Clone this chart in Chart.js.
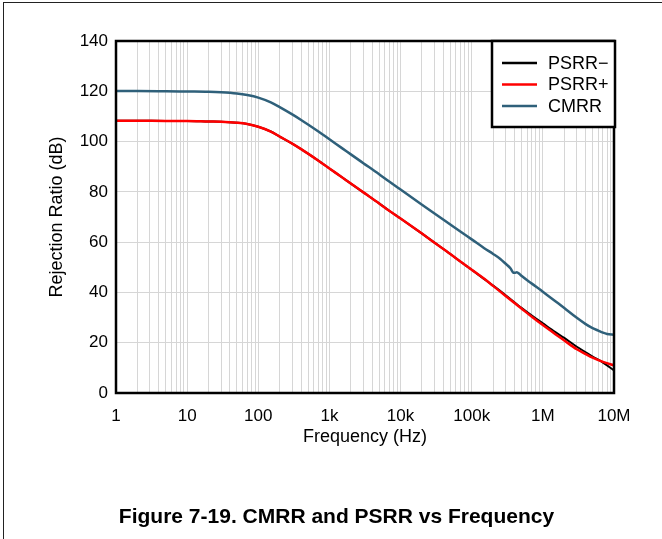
<!DOCTYPE html>
<html>
<head>
<meta charset="utf-8">
<script src="https://cdn.jsdelivr.net/npm/chart.js@4"></script>
<style>
  html, body { margin: 0; padding: 0; background: #fff; overflow: hidden; }
  #page { position: relative; width: 662px; height: 539px; }
  #frame {
    position: absolute; left: 3px; top: 2px; width: 700px; height: 600px;
    border-top: 1px solid #222; border-left: 1px solid #222;
  }
  canvas { position: absolute; left: 0; top: 0; }
  #caption {
    position: absolute; left: 0; width: 673px; top: 504px; text-align: center;
    font: bold 21px "Liberation Sans", Arial, sans-serif; color: #000;
  }
</style>
</head>
<body>
<div id="page">
  <div id="frame"></div>
  <canvas id="chart" width="662" height="539"></canvas>
  <div id="caption">Figure 7-19. CMRR and PSRR vs Frequency</div>
</div>
<script>
// frequency points (Hz)
const psrrFreq = [1, 2, 5, 10, 20, 30, 50, 70, 100, 150, 200, 300, 400, 500, 700,
  1e3, 1.5e3, 2e3, 3e3, 5e3, 7e3, 1e4, 2e4, 3e4, 5e4, 7e4, 1e5, 1.5e5, 2e5, 3e5,
  5e5, 7e5, 1e6, 1.5e6, 2e6, 3e6, 4e6, 5e6, 7e6, 1e7];
const cmrrFreq = [1, 2, 5, 10, 20, 30, 50, 70, 100, 150, 200, 300, 400, 500, 700,
  1e3, 1.5e3, 2e3, 3e3, 5e3, 7e3, 1e4, 2e4, 3e4, 5e4, 7e4, 1e5, 1.5e5, 2e5, 2.5e5,
  3e5, 3.5e5, 3.8e5, 4e5, 4.3e5, 4.7e5, 5e5, 7e5, 1e6, 1.5e6, 2e6, 3e6, 4e6, 5e6,
  6e6, 7e6, 8e6, 1e7];

// rejection ratio (dB)
const psrrMinus = [108.3, 108.3, 108.2, 108.2, 108.0, 107.9, 107.5, 107.0, 105.9, 104.0,
  102.0, 99.2, 97.0, 95.2, 92.4, 89.3, 85.8, 83.3, 79.8, 75.4, 72.4, 69.4, 63.4, 59.8,
  55.3, 52.2, 49.0, 45.3, 42.7, 38.9, 33.9, 30.8, 27.7, 24.2, 21.9, 18.4, 16.2, 14.5,
  12.1, 9.0];
const psrrPlus = [108.3, 108.3, 108.2, 108.2, 108.0, 107.9, 107.5, 107.0, 105.9, 104.0,
  102.0, 99.2, 97.0, 95.2, 92.4, 89.3, 85.8, 83.3, 79.8, 75.4, 72.4, 69.4, 63.4, 59.8,
  55.3, 52.2, 49.0, 45.4, 42.6, 38.6, 33.6, 30.3, 27.0, 23.4, 20.9, 17.4, 15.5, 14.1,
  12.4, 11.0];
const cmrr = [120.1, 120.1, 120.0, 119.9, 119.8, 119.6, 119.1, 118.5, 117.5, 115.6,
  113.7, 110.8, 108.6, 106.8, 104.0, 100.9, 97.4, 94.9, 91.4, 87.0, 84.0, 80.9, 74.9,
  71.4, 67.0, 64.1, 61.1, 57.6, 55.3, 53.4, 51.4, 49.6, 48.0, 47.8, 48.0, 47.3, 46.6,
  43.5, 40.3, 36.5, 33.8, 29.9, 27.4, 25.8, 24.8, 24.0, 23.5, 23.2];

// axis ticks
const xDecades = [1, 10, 100, 1e3, 1e4, 1e5, 1e6, 1e7];
const xDecadeLabels = ['1', '10', '100', '1k', '10k', '100k', '1M', '10M'];
const xMinorSteps = [2, 3, 4, 5, 6, 7, 8, 9];
const yTicks = [0, 20, 40, 60, 80, 100, 120, 140];

const font = 'Liberation Sans';
Chart.defaults.font.family = font;
Chart.defaults.color = '#000';

function points(freq, values) {
  return freq.map((f, i) => ({ x: f, y: values[i] }));
}

const xTickValues = [];
xDecades.forEach((d, i) => {
  xTickValues.push(d);
  if (i < xDecades.length - 1) {
    xMinorSteps.forEach((m) => xTickValues.push(d * m));
  }
});

const boxPlugin = {
  id: 'plotBox',
  afterDraw(chart) {
    const { ctx, chartArea: a } = chart;
    ctx.save();

    ctx.strokeStyle = '#000';
    ctx.lineWidth = 2.5;
    ctx.strokeRect(a.left, a.top, a.right - a.left, a.bottom - a.top);

    // legend box, top right inside the plot
    const w = 123, h = 86;
    const bx = a.right - w + 1, by = a.top;
    ctx.fillStyle = '#fff';
    ctx.fillRect(bx, by, w, h);
    ctx.strokeRect(bx, by, w, h);

    ctx.font = '18px ' + font;
    ctx.textBaseline = 'middle';
    ctx.fillStyle = '#000';
    chart.data.datasets.forEach((ds, i) => {
      const y = by + 22 + i * 21.5;
      ctx.strokeStyle = ds.borderColor;
      ctx.lineWidth = 2.5;
      ctx.beginPath();
      ctx.moveTo(bx + 10, y);
      ctx.lineTo(bx + 45, y);
      ctx.stroke();
      ctx.fillText(ds.label, bx + 56, y + 1);
    });
    ctx.restore();
  },
};

new Chart(document.getElementById('chart'), {
  type: 'line',
  data: {
    datasets: [
      {
        label: 'PSRR\u2212',
        data: points(psrrFreq, psrrMinus),
        borderColor: '#000000',
        borderWidth: 2,
        order: 2,
      },
      {
        label: 'PSRR+',
        data: points(psrrFreq, psrrPlus),
        borderColor: '#ff0000',
        borderWidth: 2.5,
        order: 1,
      },
      {
        label: 'CMRR',
        data: points(cmrrFreq, cmrr),
        borderColor: '#2f607a',
        borderWidth: 2.5,
        order: 0,
      },
    ],
  },
  options: {
    responsive: false,
    animation: false,
    elements: {
      point: { radius: 0 },
      line: { cubicInterpolationMode: 'monotone', fill: false },
    },
    layout: { padding: { top: 41, right: 48, left: 0, bottom: 0 } },
    plugins: {
      legend: { display: false },
      tooltip: { enabled: false },
    },
    scales: {
      x: {
        type: 'logarithmic',
        min: 1,
        max: 1e7,
        afterBuildTicks: (scale) => {
          scale.ticks = xTickValues.map((v) => ({ value: v }));
        },
        afterFit: (scale) => { scale.height = 146; },
        ticks: {
          autoSkip: false,
          maxRotation: 0,
          padding: 13,
          font: { size: 17 },
          callback: (value) => {
            const i = xDecades.indexOf(value);
            return i >= 0 ? xDecadeLabels[i] : '';
          },
        },
        grid: { color: '#d6d6d6', lineWidth: 1, drawTicks: false },
        border: { display: false },
        title: {
          display: true,
          text: 'Frequency (Hz)',
          font: { size: 18 },
          padding: { top: 0, bottom: 91 },
        },
      },
      y: {
        min: 0,
        max: 140,
        afterBuildTicks: (scale) => {
          scale.ticks = yTicks.map((v) => ({ value: v }));
        },
        afterFit: (scale) => { scale.width = 116; },
        ticks: { padding: 8, font: { size: 17 } },
        grid: { color: '#d6d6d6', lineWidth: 1, drawTicks: false },
        border: { display: false },
        title: {
          display: true,
          text: 'Rejection Ratio (dB)',
          font: { size: 18 },
          padding: { top: 46, bottom: 0 },
        },
      },
    },
  },
  plugins: [boxPlugin],
});
</script>
</body>
</html>
